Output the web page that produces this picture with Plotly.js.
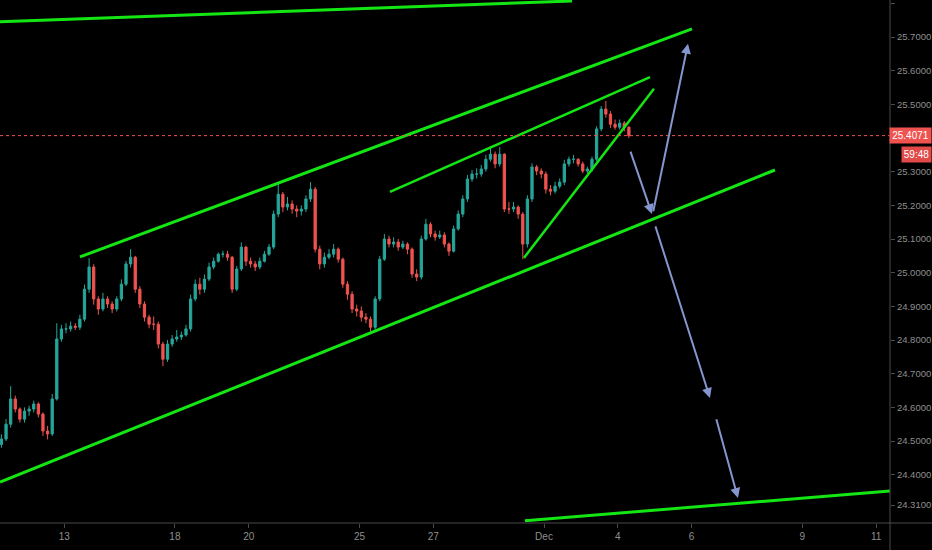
<!DOCTYPE html>
<html>
<head>
<meta charset="utf-8">
<script src="https://cdn.plot.ly/plotly-3.0.1.min.js"></script>
<style>html,body{margin:0;padding:0;background:#000;}#chart{width:932px;height:550px;}</style>
</head>
<body>
<div id="chart"></div>
<script>
// Time axis: trading days counted from Nov 13 (00:00), bars are 3-hour candles
const barStart = -1.70;
const barStep = 1 / 8;
const tickDays = [0, 3, 5, 8, 10, 13, 15, 17, 20, 22];
const tickLabels = ['13', '18', '20', '25', '27', 'Dec', '4', '6', '9', '11'];
const priceTicks = [25.8, 25.7, 25.6, 25.5, 25.3, 25.2, 25.1, 25.0, 24.9, 24.8, 24.7, 24.6, 24.5, 24.4, 24.31];
const priceTickText = ['25.8000', '25.7000', '25.6000', '25.5000', '25.3000', '25.2000', '25.1000', '25.0000', '24.9000', '24.8000', '24.7000', '24.6000', '24.5000', '24.4000', '24.3100'];
const lastPrice = 25.4071;
const countdown = '59:48';
const firstOpen = 24.490;

const closes = [
 24.506, 24.550, 24.625, 24.595, 24.565, 24.589, 24.595, 24.610, 24.580, 24.530,
 24.521, 24.625, 24.803, 24.833, 24.833, 24.841, 24.838, 24.862, 24.951, 25.017,
 24.922, 24.892, 24.922, 24.907, 24.892, 24.922, 24.966, 25.026, 25.046, 24.951,
 24.907, 24.868, 24.847, 24.847, 24.788, 24.743, 24.788, 24.803, 24.809, 24.815,
 24.833, 24.922, 24.966, 24.951, 24.981, 25.017, 25.034, 25.055, 25.055, 25.046,
 24.951, 25.011, 25.076, 25.034, 25.026, 25.017, 25.034, 25.055, 25.076, 25.174,
 25.233, 25.195, 25.204, 25.189, 25.183, 25.189, 25.219, 25.248, 25.070, 25.026,
 25.046, 25.055, 25.070, 25.040, 24.966, 24.936, 24.892, 24.886, 24.868, 24.862,
 24.838, 24.922, 25.040, 25.100, 25.085, 25.091, 25.076, 25.085, 25.070, 24.996,
 24.987, 25.100, 25.144, 25.115, 25.106, 25.112, 25.085, 25.064, 25.130, 25.174,
 25.219, 25.278, 25.293, 25.293, 25.308, 25.337, 25.352, 25.323, 25.352, 25.189,
 25.189, 25.195, 25.174, 25.085, 25.219, 25.314, 25.302, 25.293, 25.248, 25.242,
 25.257, 25.269, 25.323, 25.337, 25.337, 25.323, 25.302, 25.308, 25.337, 25.427,
 25.486, 25.471, 25.441, 25.432, 25.444, 25.432, 25.4071
];
const highs = [
 24.520, 24.565, 24.663, 24.635, 24.600, 24.600, 24.605, 24.620, 24.615, 24.585,
 24.545, 24.640, 24.850, 24.845, 24.850, 24.855, 24.850, 24.875, 24.965, 25.043,
 25.025, 24.930, 24.940, 24.930, 24.915, 24.930, 24.980, 25.035, 25.070, 25.050,
 24.960, 24.915, 24.875, 24.870, 24.855, 24.795, 24.800, 24.815, 24.830, 24.825,
 24.845, 24.935, 24.980, 24.985, 24.995, 25.030, 25.045, 25.060, 25.065, 25.065,
 25.050, 25.020, 25.090, 25.080, 25.045, 25.035, 25.045, 25.065, 25.085, 25.185,
 25.269, 25.240, 25.225, 25.215, 25.200, 25.200, 25.230, 25.269, 25.255, 25.080,
 25.060, 25.070, 25.085, 25.075, 25.045, 24.975, 24.945, 24.905, 24.900, 24.880,
 24.870, 24.930, 25.050, 25.115, 25.110, 25.105, 25.100, 25.095, 25.090, 25.075,
 25.010, 25.110, 25.160, 25.150, 25.125, 25.125, 25.120, 25.090, 25.140, 25.185,
 25.230, 25.290, 25.305, 25.310, 25.320, 25.350, 25.373, 25.360, 25.373, 25.355,
 25.210, 25.210, 25.200, 25.180, 25.230, 25.325, 25.320, 25.310, 25.300, 25.260,
 25.270, 25.280, 25.335, 25.345, 25.350, 25.340, 25.330, 25.315, 25.345, 25.435,
 25.495, 25.510, 25.480, 25.455, 25.455, 25.450, 25.435
];
const lows = [
 24.480, 24.500, 24.540, 24.585, 24.555, 24.555, 24.575, 24.585, 24.570, 24.515,
 24.505, 24.515, 24.620, 24.795, 24.820, 24.825, 24.830, 24.830, 24.855, 24.940,
 24.905, 24.875, 24.885, 24.895, 24.880, 24.885, 24.915, 24.960, 25.015, 24.940,
 24.895, 24.855, 24.835, 24.830, 24.775, 24.722, 24.735, 24.780, 24.795, 24.800,
 24.810, 24.825, 24.915, 24.935, 24.940, 24.975, 25.010, 25.030, 25.045, 25.035,
 24.940, 24.945, 25.005, 25.020, 25.015, 25.005, 25.010, 25.030, 25.050, 25.070,
 25.165, 25.180, 25.185, 25.175, 25.165, 25.170, 25.180, 25.210, 25.060, 25.010,
 25.015, 25.040, 25.045, 25.030, 24.955, 24.920, 24.880, 24.870, 24.855, 24.850,
 24.826, 24.830, 24.915, 25.035, 25.075, 25.075, 25.065, 25.070, 25.055, 24.985,
 24.975, 24.980, 25.095, 25.105, 25.095, 25.100, 25.075, 25.050, 25.060, 25.125,
 25.165, 25.210, 25.270, 25.280, 25.285, 25.300, 25.330, 25.310, 25.315, 25.180,
 25.175, 25.180, 25.160, 25.040, 25.075, 25.210, 25.290, 25.280, 25.235, 25.230,
 25.235, 25.250, 25.260, 25.315, 25.325, 25.315, 25.295, 25.295, 25.300, 25.330,
 25.420, 25.460, 25.430, 25.425, 25.425, 25.420, 25.400
];

// Drawn trend lines (start day, start price, end day, end price)
const lineStartX = [-1.739, 0.428, 8.827, 12.457, -1.739, 12.484];
const lineStartY = [25.745, 25.047, 25.240, 25.044, 24.378, 24.263];
const lineEndX   = [13.758, 17.009, 15.871, 15.979, 19.257, 22.373];
const lineEndY   = [25.807, 25.724, 25.581, 25.546, 25.305, 24.352];
const lineWidths = [3, 3, 2.5, 2.5, 3, 3];

// Projection arrows (tail -> head)
const arrowTailX = [15.952, 15.329, 16.006, 17.658];
const arrowTailY = [25.178, 25.364, 25.142, 24.569];
const arrowHeadX = [16.901, 15.925, 17.496, 18.254];
const arrowHeadY = [25.680, 25.174, 24.628, 24.331];

const xs = closes.map((_, i) => barStart + i * barStep);
const opens = closes.map((_, i) => i === 0 ? firstOpen : closes[i - 1]);

const GREEN = '#14e614';
const ARROW = '#8596cf';
const UP = '#26a69a';
const DOWN = '#ef5350';
const AXIS = '#4b4b4b';
const TXT = '#8f8f8f';

const traces = [];
for (let k = 0; k < lineStartX.length; k++) {
  traces.push({
    type: 'scatter', mode: 'lines',
    x: [lineStartX[k], lineEndX[k]], y: [lineStartY[k], lineEndY[k]],
    line: {color: GREEN, width: lineWidths[k]}, hoverinfo: 'skip', showlegend: false
  });
}
traces.unshift({
  type: 'candlestick', x: xs, open: opens, high: highs, low: lows, close: closes,
  increasing: {line: {color: UP, width: 1}, fillcolor: UP},
  decreasing: {line: {color: DOWN, width: 1}, fillcolor: DOWN},
  whiskerwidth: 0, showlegend: false
});

const annotations = [];
for (let k = 0; k < arrowTailX.length; k++) {
  annotations.push({
    x: arrowHeadX[k], y: arrowHeadY[k], xref: 'x', yref: 'y',
    ax: arrowTailX[k], ay: arrowTailY[k], axref: 'x', ayref: 'y',
    text: '', showarrow: true, arrowhead: 2, arrowsize: 1, arrowwidth: 2, arrowcolor: ARROW
  });
}
const rightEdge = 932 / 890;
annotations.push({
  xref: 'paper', yref: 'y', x: rightEdge, y: lastPrice, xanchor: 'right', yanchor: 'middle',
  text: lastPrice.toFixed(4), showarrow: false, bgcolor: DOWN, borderpad: 2, width: 37,
  font: {family: 'Liberation Sans, Arial, sans-serif', size: 10, color: '#ffffff'}
});
annotations.push({
  xref: 'paper', yref: 'y', x: rightEdge, y: lastPrice, yshift: -19, xanchor: 'right', yanchor: 'middle',
  text: countdown, showarrow: false, bgcolor: '#e04a48', borderpad: 2, width: 25,
  font: {family: 'Liberation Sans, Arial, sans-serif', size: 10, color: '#ffffff'}
});

const layout = {
  width: 932, height: 550,
  margin: {l: 0, r: 42, t: 0, b: 27, pad: 0},
  paper_bgcolor: '#000000', plot_bgcolor: '#000000',
  showlegend: false,
  xaxis: {
    range: [-1.739, 22.374], rangeslider: {visible: false},
    tickvals: tickDays, ticktext: tickLabels,
    showgrid: false, zeroline: false, showline: false,
    ticks: 'outside', ticklen: 4, tickcolor: AXIS,
    tickfont: {family: 'Liberation Sans, Arial, sans-serif', size: 10, color: TXT}
  },
  yaxis: {
    side: 'right', range: [24.2566, 25.8099],
    tickvals: priceTicks, ticktext: priceTickText,
    showgrid: false, zeroline: false, showline: false,
    ticks: 'outside', ticklen: 4, tickcolor: AXIS,
    tickfont: {family: 'Liberation Sans, Arial, sans-serif', size: 9.5, color: TXT}
  },
  shapes: [
    {type: 'line', xref: 'paper', yref: 'y', x0: 0, x1: 1, y0: lastPrice, y1: lastPrice,
     line: {color: DOWN, width: 1, dash: 'dot'}},
    {type: 'line', xref: 'paper', yref: 'paper', x0: 0, x1: rightEdge, y0: 0, y1: 0,
     line: {color: AXIS, width: 1}},
    {type: 'line', xref: 'paper', yref: 'paper', x0: 1, x1: 1, y0: -27 / 523, y1: 1,
     line: {color: AXIS, width: 1}}
  ],
  annotations: annotations
};

Plotly.newPlot('chart', traces, layout, {displayModeBar: false, staticPlot: true});
</script>
</body>
</html>
